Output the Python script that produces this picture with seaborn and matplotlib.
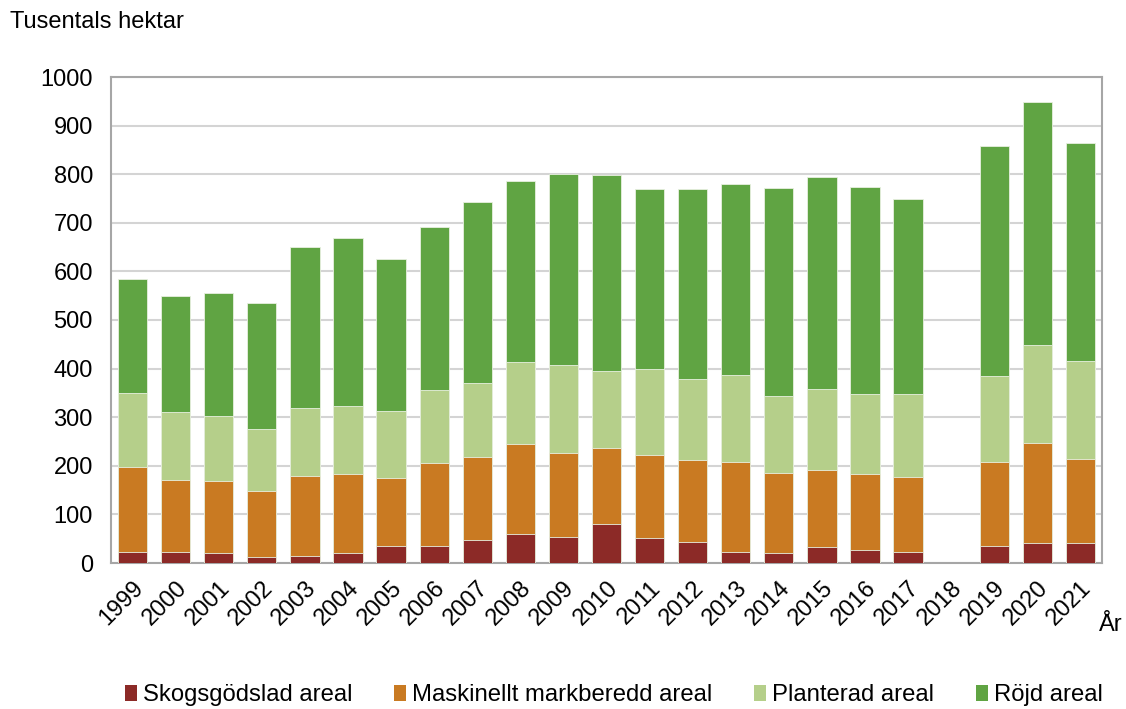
import numpy as np
import pandas as pd
import matplotlib
matplotlib.use("Agg")
import matplotlib.pyplot as plt
import seaborn as sns
from matplotlib.patches import Patch

years = ["1999", "2000", "2001", "2002", "2003", "2004", "2005", "2006", "2007", "2008",
         "2009", "2010", "2011", "2012", "2013", "2014", "2015", "2016", "2017", "2018",
         "2019", "2020", "2021"]
skogsgodslad = [23, 23, 20, 12, 15, 20, 34, 34, 47, 60, 54, 80, 51, 44, 23, 20, 33, 27, 23, np.nan, 36, 41, 41]
maskinellt = [174, 147, 148, 137, 163, 164, 141, 171, 171, 185, 172, 156, 172, 168, 185, 166, 159, 157, 153, np.nan, 171, 206, 174]
planterad = [152, 140, 135, 126, 140, 139, 138, 150, 153, 168, 182, 159, 176, 167, 178, 158, 166, 163, 171, np.nan, 177, 202, 201]
rojd = [235, 240, 252, 259, 332, 346, 313, 337, 371, 372, 393, 403, 370, 390, 394, 427, 437, 427, 401, np.nan, 474, 499, 448]

series_names = ["Skogsgödslad areal", "Maskinellt markberedd areal", "Planterad areal", "Röjd areal"]
colors = ["#8C2A27", "#C97A22", "#B5CF8A", "#60A443"]
yticks = [0, 100, 200, 300, 400, 500, 600, 700, 800, 900, 1000]

sns.set_theme(style="white")
plt.rcParams["font.family"] = ["Liberation Sans", "DejaVu Sans"]
plt.rcParams["text.color"] = "#000000"

df = pd.DataFrame({"year": years, "s1": skogsgodslad, "s2": maskinellt, "s3": planterad, "s4": rojd})
df["c1"] = df["s1"]
df["c2"] = df["c1"] + df["s2"]
df["c3"] = df["c2"] + df["s3"]
df["c4"] = df["c3"] + df["s4"]

fig = plt.figure(figsize=(11.26, 7.09), dpi=100)
ax = fig.add_axes([111 / 1126, 1 - 563 / 709, 991 / 1126, 486 / 709])

for col, color in zip(["c4", "c3", "c2", "c1"], colors[::-1]):
    sns.barplot(data=df, x="year", y=col, order=years, color=color, width=0.68,
                saturation=1, edgecolor="#E8F0E0", linewidth=0.6, ax=ax, zorder=3, errorbar=None)

ax.set_xlim(-0.5, len(years) - 0.5)
ax.set_ylim(0, 1000)
ax.set_yticks(yticks)
ax.set_yticklabels([str(t) for t in yticks], fontsize=17, color="#000000")
ax.set_xticks(range(len(years)))
ax.set_xticklabels(years, rotation=45, ha="right", rotation_mode="anchor", fontsize=17, color="#000000")
ax.tick_params(axis="y", length=0, pad=13)
ax.tick_params(axis="x", length=0, pad=10)
ax.set_xlabel("")
ax.set_ylabel("")
ax.yaxis.grid(True, color="#D4D4D4", linewidth=1.5, zorder=0)
ax.set_axisbelow(True)
for s in ax.spines.values():
    s.set_visible(True)
    s.set_color("#A6A6A6")
    s.set_linewidth(1.5)

fig.text(10 / 1126, 1 - 22 / 709, "Tusentals hektar", fontsize=17, va="center", ha="left", color="#000000")
fig.text(1099 / 1126, 1 - 625 / 709, "År", fontsize=17, va="center", ha="left", color="#000000")

handles = [Patch(facecolor=c, edgecolor="none") for c in colors]
leg = fig.legend(handles, series_names, loc="center", bbox_to_anchor=(0.545, 1 - 695 / 709), ncol=4,
                 frameon=False, fontsize=17.2, handlelength=0.5, handleheight=0.65, handletextpad=0.25,
                 columnspacing=1.75)
for t in leg.get_texts():
    t.set_color("#000000")

fig.savefig("out.png", dpi=100)
